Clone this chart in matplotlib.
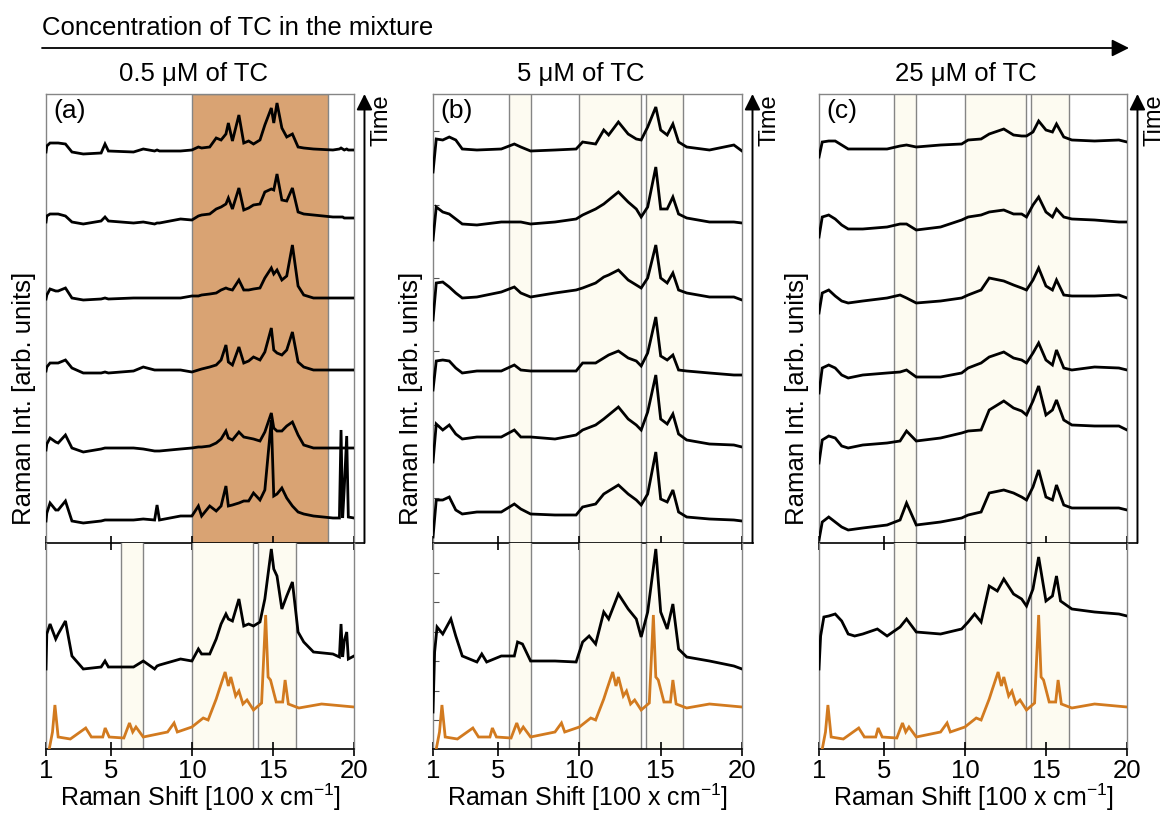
import numpy as np
import matplotlib
matplotlib.use('Agg')
import matplotlib.pyplot as plt
from matplotlib.patches import FancyArrowPatch

plt.rcParams['font.family'] = ['Liberation Sans', 'DejaVu Sans']
plt.rcParams['mathtext.fontset'] = 'custom'
plt.rcParams['mathtext.rm'] = 'Liberation Sans'

# ---- data (Raman shift in 100 cm-1, intensity in arb. units) ----
# panel (a), 0.5 uM TC : six spectra over time, baseline-relative intensity
ga = [1.0, 1.05, 1.25, 1.6, 1.75, 2.2, 2.6, 3.3, 4.4, 4.64, 4.85, 6.4, 7.0, 7.7, 7.85, 8.0, 9.3,
      10.0, 10.4, 10.6, 11.1, 11.5, 11.8, 12.1, 12.25, 12.5, 12.9, 13.2, 13.5, 13.8, 14.2, 14.5,
      14.9, 15.05, 15.25, 15.55, 15.85, 16.2, 16.55, 16.9, 17.5, 18.7, 19.1, 19.2, 19.3, 19.4,
      19.55, 19.65, 20.0]
a1 = [-2, 4, 7, 7, 7, 6, -2, -4, -3, 6, -1, -2, 1, -1, 0, -1, -1, 0, 3, 2, 3, 12, 10, 16, 27, 9,
      35, 7, 9, 6, 10, 25, 42, 27, 47, 22, 13, 16, 3, 2, 1, 0, 1, 2, 1, 0, 1, 0, 0]
a2 = [-4, 2, 4, 4, 4, 2, -4, -6, -3, 1, -3, -5, -4, -6, -5, -5, -1, -2, 2, 3, 4, 9, 11, 14, 20, 9,
      30, 8, 10, 13, 14, 26, 29, 28, 44, 18, 17, 30, 6, 4, 3, 1, 1, 1, 1, 0, 0, 0, 0]
a3 = [-1, 3, 9, 7, 7, 10, 0, -2, -1, 0, -1, 0, 0, 0, 0, 0, 0, 2, 2, 3, 4, 5, 8, 10, 9, 8,
      18, 8, 8, 9, 10, 20, 30, 24, 28, 18, 22, 53, 12, 3, 0, 0, 0, 0, 0, 0, 0, 0, 0]
a4 = [-1, 3, 7, 7, 7, 10, 2, -3, -3, -2, -3, -1, 3, 0, 0, 0, 0, -2, 0, 1, 3, 5, 10, 25, 8, 5,
      23, 7, 9, 13, 10, 18, 42, 20, 17, 15, 20, 38, 8, 3, 0, 0, 0, 0, 0, 0, 0, 0, 0]
a5 = [-2, 4, 10, 6, 5, 13, 0, -4, -1, 0, 0, 0, -1, -3, -3, -3, -1, 0, 1, 1, 2, 5, 9, 17, 10, 8,
      16, 11, 10, 9, 7, 16, 35, 20, 17, 17, 22, 26, 13, 3, 0, 0, 0, 0, 0, 0, 0, 0, 0]
a6 = [-3, 5, 15, 8, 8, 17, -3, -5, -3, -2, -2, -2, -1, -2, 13, -2, 2, 2, 12, 2, 12, 7, 12, 32, 12,
      13, 15, 17, 17, 25, 18, 28, 98, 22, 24, 30, 20, 12, 6, 4, 2, 0, 0, 88, 0, 30, 82, 1, 0]
a_off = [393, 325, 245, 173, 95, 25]
a_mix = [80, 115, 125, 110, 115, 128, 93, 80, 82, 88, 82, 82, 88, 80, 83, 84, 90, 88, 100, 95, 95,
         110, 125, 135, 130, 128, 150, 123, 125, 123, 127, 150, 200, 180, 173, 140, 153, 167, 117,
         107, 97, 95, 92, 125, 92, 108, 117, 90, 93]

# panel (b), 5 uM TC
gb = [1.0, 1.2, 1.6, 2.0, 2.4, 2.8, 3.7, 5.2, 6.0, 6.4, 7.0, 8.5, 9.8, 10.2, 11.0, 11.5, 11.8,
      12.4, 13.0, 13.5, 13.8, 14.2, 14.7, 15.0, 15.4, 15.75, 16.1, 16.6, 18.0, 19.5, 20.0]
b1 = [-21, 12, 11, 14, 11, 2, 1, 2, 7, 4, 0, 1, 2, 9, 7, 21, 16, 29, 17, 12, 11, 24, 44, 21, 16,
      27, 9, 4, 1, 6, 0]
b2 = [-17, 16, 11, 9, 4, -1, -2, 1, 1, 1, -1, 1, 4, 8, 14, 19, 23, 31, 21, 14, 6, 16, 56, 14, 14,
      26, 9, 5, 1, 1, 0]
b3 = [-20, 17, 18, 13, 7, 2, 3, 8, 13, 7, 3, 7, 10, 12, 17, 23, 25, 30, 20, 15, 12, 22, 55, 22, 17,
      27, 10, 7, 3, 3, 0]
b4 = [-17, 12, 13, 12, 5, 0, 2, 2, 8, 3, 2, 2, 2, 10, 10, 15, 18, 22, 15, 12, 7, 20, 56, 17, 13,
      18, 3, 2, 0, -2, -2]
b5 = [-15, 23, 17, 22, 13, 8, 10, 10, 17, 10, 10, 8, 12, 17, 22, 28, 32, 40, 28, 22, 17, 35, 72, 28,
      23, 33, 13, 7, 3, 2, 0]
b6 = [-16, 21, 21, 24, 11, 7, 9, 9, 17, 12, 7, 6, 6, 14, 17, 27, 30, 36, 27, 21, 16, 27, 69, 22, 19,
      31, 9, 4, 2, 1, 0]
b_off = [392, 320, 243, 170, 96, 22]
gb_mix = [1.0, 1.1, 1.25, 1.6, 2.1, 2.4, 2.8, 3.7, 4.0, 4.3, 5.2, 6.0, 6.2, 6.5, 7.0, 8.5, 9.8, 10.2,
          10.6, 11.0, 11.5, 11.8, 12.4, 13.0, 13.5, 13.8, 14.2, 14.7, 15.0, 15.4, 15.75, 16.1, 16.6,
          18.0, 19.5, 20.0]
b_mix = [37, 97, 122, 115, 130, 113, 93, 87, 95, 87, 93, 93, 107, 105, 88, 88, 87, 107, 113, 105,
         137, 130, 155, 140, 130, 112, 137, 200, 137, 120, 145, 100, 92, 88, 83, 80]

# panel (c), 25 uM TC
gc = [1.0, 1.2, 1.6, 2.0, 2.4, 2.8, 3.7, 5.2, 6.0, 6.4, 7.0, 8.5, 9.8, 10.2, 11.0, 11.5, 12.4,
      13.0, 13.5, 13.8, 14.2, 14.55, 15.0, 15.4, 15.65, 16.1, 16.6, 18.0, 19.5, 20.0]
c1 = [-15, 0, 1, 1, -3, -7, -7, -7, -4, -3, -5, -3, -2, 2, 3, 8, 13, 7, 6, 6, 10, 21, 12, 10, 18,
      5, 2, 1, 2, 0]
c2 = [-15, 5, 7, 3, -3, -7, -7, -5, -2, -2, -8, -5, 2, 5, 7, 10, 12, 8, 8, 5, 17, 25, 10, 5, 13,
      5, 3, 2, 0, 0]
c3 = [-15, 5, 8, 2, -3, -5, -3, 0, 3, 0, -5, -3, 0, 3, 8, 20, 17, 13, 10, 8, 18, 30, 12, 8, 18,
      3, 2, 2, 3, 0]
c4 = [-23, 2, 5, 2, -5, -8, -5, -3, -2, 0, -7, -7, -3, 2, 7, 13, 18, 12, 10, 7, 17, 27, 10, 5, 20,
      2, 0, 3, 2, 0]
c5 = [-35, -12, -8, -10, -18, -20, -17, -15, -13, -3, -13, -10, -5, -3, -2, 18, 27, 20, 17, 13, 27,
      42, 13, 18, 28, 8, 3, 2, 2, -2]
c6 = [-30, -12, -7, -12, -17, -20, -18, -15, -10, 7, -15, -12, -8, -5, -2, 17, 20, 17, 13, 10, 23,
      40, 13, 10, 25, 5, 2, 2, 2, 0]
c_off = [401, 321, 245, 173, 115, 33]
gc_mix = [1.0, 1.1, 1.3, 1.6, 2.0, 2.4, 2.8, 3.2, 3.7, 4.6, 5.2, 6.0, 6.4, 7.0, 8.5, 9.8, 10.2, 10.6,
          11.0, 11.5, 12.0, 12.4, 13.0, 13.5, 13.8, 14.2, 14.55, 15.0, 15.4, 15.65, 15.9, 16.6, 18.0,
          19.5, 20.0]
c_mix = [80, 113, 132, 133, 135, 128, 115, 113, 115, 120, 113, 122, 130, 117, 115, 120, 127, 135,
         127, 163, 158, 170, 155, 150, 143, 160, 192, 148, 153, 173, 148, 140, 137, 135, 133]

# TC reference spectrum (orange), same in all panels
ref_x = [1.2, 1.4, 1.55, 1.75, 2.5, 3.45, 3.8, 4.5, 4.65, 4.9, 5.8, 6.15, 6.35, 6.55, 7.0, 8.5, 8.9,
         9.1, 10.0, 10.7, 11.0, 11.5, 11.7, 12.05, 12.25, 12.4, 12.7, 12.9, 13.15, 13.4, 13.8, 14.3,
         14.55, 14.7, 14.85, 15.2, 15.6, 15.75, 15.95, 16.6, 18.0, 20.0]
ref_y = [0, 17, 44, 12, 10, 21, 12, 12, 21, 12, 11, 26, 17, 22, 12, 17, 26, 17, 22, 31, 29, 50, 60,
         77, 63, 72, 53, 58, 45, 49, 39, 46, 134, 72, 69, 47, 47, 69, 45, 41, 45, 42]

# marked spectral windows
bands = [(5.65, 7.0), (10.0, 13.8), (14.07, 16.4)]
xticks = [1, 5, 10, 15, 20]

W, H = 1165, 816
band_col = '#fdfbf1'
edge_col = '#858585'
orange = '#d27a1f'
fs = 18.5
lw = 2.0

fig = plt.figure(figsize=(W / 100, H / 100), dpi=100)


def rect(l, t, r, b):
    return [l / W, 1 - b / H, (r - l) / W, (b - t) / H]


panels = [
    (46, 354, ga, [a1, a2, a3, a4, a5, a6], a_off, ga, a_mix, '0.5 μM of TC', '(a)'),
    (433, 742, gb, [b1, b2, b3, b4, b5, b6], b_off, gb_mix, b_mix, '5 μM of TC', '(b)'),
    (819, 1127, gc, [c1, c2, c3, c4, c5, c6], c_off, gc_mix, c_mix, '25 μM of TC', '(c)'),
]

for i, (l, r, gx, specs, offs, mx, my, title, tag) in enumerate(panels):
    ax = fig.add_axes(rect(l, 94, r, 543))
    axb = fig.add_axes(rect(l, 543, r, 749))

    # shaded windows
    if i == 0:
        ax.axvspan(10.0, 18.4, facecolor='#d9a373', edgecolor=edge_col, lw=1, zorder=0)
        axs = [axb]
    else:
        axs = [ax, axb]
    for a in axs:
        for x0, x1 in bands:
            a.axvspan(x0, x1, color=band_col, lw=0, zorder=0)
        for x0, x1 in bands:
            a.axvline(x0, color=edge_col, lw=1, zorder=1)
            a.axvline(x1, color=edge_col, lw=1, zorder=1)

    # stacked spectra over time
    for s, o in zip(specs, offs):
        ax.plot(gx, np.array(s) + o, color='k', lw=lw, zorder=3, solid_joinstyle='miter')
    axb.plot(mx, my, color='k', lw=lw, zorder=3, solid_joinstyle='miter')
    axb.plot(ref_x, ref_y, color=orange, lw=lw, zorder=3, solid_joinstyle='miter')

    for a in (ax, axb):
        a.set_xlim(1, 20)
        a.set_xticks(xticks)
        for sp in ('left', 'right', 'top'):
            a.spines[sp].set_color(edge_col)
            a.spines[sp].set_linewidth(1)
        a.spines['bottom'].set_color('k')
        a.spines['bottom'].set_linewidth(1.2)
        a.tick_params(axis='x', direction='inout', length=10, width=1.2, color='k')
        a.patch.set_alpha(0)
    axb.spines['top'].set_visible(False)
    ax.set_ylim(0, 449)
    axb.set_ylim(0, 206)
    ax.tick_params(axis='x', labelbottom=False)
    axb.tick_params(axis='x', labelsize=fs, pad=2)

    if i == 1:
        ax.set_yticks(np.arange(45, 449, 73.3))
        axb.set_yticks(np.arange(29, 200, 29.4))
        for a in (ax, axb):
            a.tick_params(axis='y', direction='in', length=4, color='#555555', labelleft=False)
    else:
        ax.set_yticks([])
        axb.set_yticks([])

    # time arrow on the right
    ax.plot([1, 1.034], [0, 0], transform=ax.transAxes, color='k', lw=1.2, clip_on=False)
    ax.annotate('', xy=(1.034, 1.0), xytext=(1.034, 0), xycoords='axes fraction',
                arrowprops=dict(arrowstyle='-|>', color='k', lw=1.4, mutation_scale=24,
                                shrinkA=0, shrinkB=0), annotation_clip=False)
    ax.text(1.088, 1.0, 'Time', transform=ax.transAxes, rotation=90, ha='center', va='top',
            fontsize=17)

    ax.text(0.025, 0.988, tag, transform=ax.transAxes, ha='left', va='top', fontsize=19)
    fig.text((l + r) / 2 / W - 0.006, 1 - 74 / H, title, ha='center', va='center', fontsize=fs)
    fig.text((l - 22) / W, 1 - 398 / H, 'Raman Int. [arb. units]', rotation=90,
             ha='center', va='center', fontsize=fs)
    fig.text((l + r) / 2 / W, 1 - 797 / H, 'Raman Shift [100 x cm$^{\\mathregular{-1}}$]',
             ha='center', va='center', fontsize=18)

# concentration arrow on top
fig.text(42 / W, 1 - 28 / H, 'Concentration of TC in the mixture', ha='left', va='center',
         fontsize=fs)
fig.add_artist(FancyArrowPatch((42 / W, 1 - 48 / H), (1129 / W, 1 - 48 / H),
                               transform=fig.transFigure, arrowstyle='-|>', mutation_scale=26,
                               color='k', lw=1.3, shrinkA=0, shrinkB=0))

fig.savefig('out.png', dpi=100)
